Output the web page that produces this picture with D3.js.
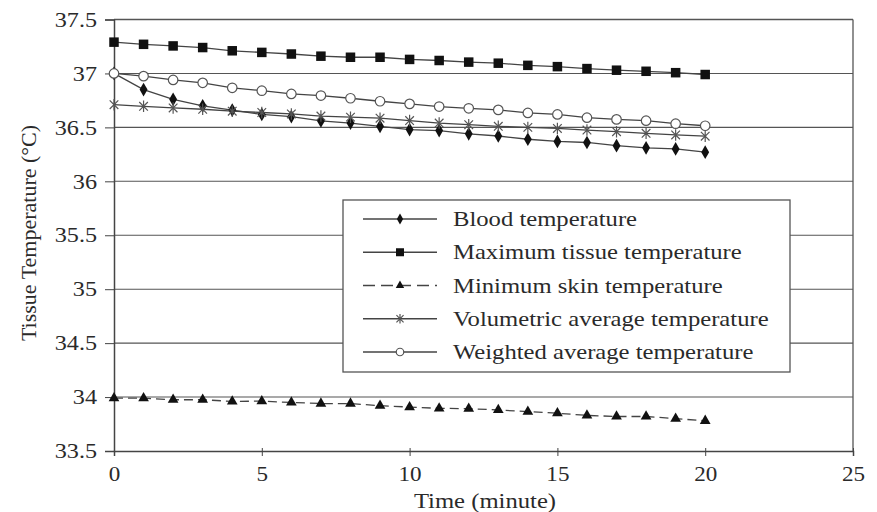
<!DOCTYPE html>
<html>
<head>
<meta charset="utf-8">
<script src="https://cdn.jsdelivr.net/npm/d3@7"></script>
<style>
    body { margin: 0; background: #fff; }
    svg text { font-family: "Liberation Serif", "Times New Roman", Times, serif !important; fill: #2a2a2a; }
</style>
</head>
<body>
<div id="chart"></div>
<script>
// time in minutes
const minutes = d3.range(0, 21);
const xTicks = [0, 5, 10, 15, 20, 25];
const yTicks = [33.5, 34, 34.5, 35, 35.5, 36, 36.5, 37, 37.5];

const seriesNames = [
    "Blood temperature",
    "Maximum tissue temperature",
    "Minimum skin temperature",
    "Volumetric average temperature",
    "Weighted average temperature"
];

const bloodTemp = [37.0, 36.85, 36.76, 36.70, 36.66, 36.62, 36.60, 36.56, 36.54, 36.51, 36.48,
    36.47, 36.44, 36.42, 36.39, 36.37, 36.36, 36.33, 36.31, 36.30, 36.27];
const maxTissueTemp = [37.29, 37.27, 37.255, 37.24, 37.21, 37.195, 37.18, 37.16, 37.15, 37.15, 37.13,
    37.12, 37.105, 37.095, 37.075, 37.063, 37.045, 37.03, 37.02, 37.007, 36.99];
const minSkinTemp = [33.99, 33.99, 33.975, 33.975, 33.96, 33.962, 33.95, 33.94, 33.94, 33.92, 33.907,
    33.895, 33.893, 33.88, 33.865, 33.85, 33.83, 33.82, 33.82, 33.80, 33.78];
const volAvgTemp = [36.71, 36.695, 36.68, 36.668, 36.65, 36.638, 36.625, 36.605, 36.595, 36.585, 36.563,
    36.54, 36.525, 36.51, 36.5, 36.49, 36.475, 36.46, 36.445, 36.43, 36.418];
const weightedAvgTemp = [37.0, 36.975, 36.94, 36.913, 36.867, 36.84, 36.81, 36.795, 36.77, 36.742, 36.718,
    36.693, 36.677, 36.662, 36.634, 36.62, 36.59, 36.574, 36.562, 36.534, 36.515];

const SERIF = "Liberation Serif";

// widen glyphs a little, the scanned figure is stretched horizontally
function stretch(sel, k) {
    k = k || 1.12;
    sel.each(function() {
        const w = this.getComputedTextLength();
        this.setAttribute("textLength", w * k);
        this.setAttribute("lengthAdjust", "spacingAndGlyphs");
    });
}

function asteriskPath(r) {
    const d = r * 0.75;
    return `M0,${-r}L0,${r}M${-d},${-d}L${d},${d}M${-d},${d}L${d},${-d}`;
}

class TempChart {
    constructor(width, height) {
        this.width = width;
        this.height = height;
        this.plot = { left: 114, right: 853, top: 19.5, bottom: 451 };

        this.xScale = d3.scaleLinear().domain([0, 25]).range([this.plot.left, this.plot.right]);
        this.yScale = d3.scaleLinear().domain([33.5, 37.5]).range([this.plot.bottom, this.plot.top]);

        this.series = [
            { name: seriesNames[0], values: bloodTemp, marker: "diamond", dash: null },
            { name: seriesNames[1], values: maxTissueTemp, marker: "square", dash: null },
            { name: seriesNames[2], values: minSkinTemp, marker: "triangle", dash: "9,5" },
            { name: seriesNames[3], values: volAvgTemp, marker: "asterisk", dash: null },
            { name: seriesNames[4], values: weightedAvgTemp, marker: "circle", dash: null }
        ];
    }

    renderSvg(id) {
        this.svg = d3.select(id).append("svg")
            .attr("width", this.width)
            .attr("height", this.height)
            .attr("font-family", SERIF);
    }

    renderGrid() {
        const self = this;
        this.svg.append("g")
            .selectAll("line")
            .data(yTicks.slice(1))
            .enter().append("line")
            .attr("x1", this.plot.left)
            .attr("x2", this.plot.right)
            .attr("y1", d => self.yScale(d))
            .attr("y2", d => self.yScale(d))
            .attr("stroke", "#555")
            .attr("stroke-width", d => d === 37.5 ? 1.6 : 1.1);

        // right border
        this.svg.append("line")
            .attr("x1", this.plot.right).attr("x2", this.plot.right)
            .attr("y1", this.plot.top).attr("y2", this.plot.bottom)
            .attr("stroke", "#555").attr("stroke-width", 1.3);
    }

    renderAxes() {
        const axisX = d3.axisBottom(this.xScale)
            .tickValues(xTicks)
            .tickSize(5)
            .tickPadding(10)
            .tickFormat(d3.format("d"));

        const axisY = d3.axisLeft(this.yScale)
            .tickValues(yTicks)
            .tickSize(9)
            .tickPadding(8)
            .tickFormat(d => d);

        const gx = this.svg.append("g")
            .attr("class", "x axis")
            .attr("transform", "translate(0," + this.plot.bottom + ")")
            .call(axisX)
            .attr("font-family", SERIF);
        gx.select(".domain").attr("stroke", "#444").attr("stroke-width", 1.5);
        gx.selectAll(".tick line").attr("stroke", "#444").attr("y1", -3);
        gx.selectAll(".tick text").attr("font-size", 21).attr("fill", "#2a2a2a").call(stretch, 1.1);

        const gy = this.svg.append("g")
            .attr("class", "y axis")
            .attr("transform", "translate(" + this.plot.left + ",0)")
            .call(axisY)
            .attr("font-family", SERIF);
        gy.select(".domain").attr("stroke", "#444").attr("stroke-width", 1.5);
        gy.selectAll(".tick line").attr("stroke", "#444");
        gy.selectAll(".tick text").attr("font-size", 21).attr("fill", "#2a2a2a").call(stretch, 1.15);
    }

    renderLabels() {
        this.svg.append("text")
            .attr("x", 485)
            .attr("y", 508)
            .attr("font-size", 22)
            .style("text-anchor", "middle")
            .text("Time (minute)")
            .call(stretch);

        this.svg.append("text")
            .attr("transform", "translate(36,233)rotate(-90)")
            .attr("font-size", 22)
            .style("text-anchor", "middle")
            .text("Tissue Temperature (°C)");
    }

    drawMarker(g, type, size) {
        if (type === "diamond") {
            g.append("path")
                .attr("d", d3.symbol().type(d3.symbolDiamond).size(size * size * 0.6)())
                .attr("fill", "#111");
        } else if (type === "square") {
            g.append("rect")
                .attr("x", -size / 2).attr("y", -size / 2)
                .attr("width", size).attr("height", size)
                .attr("fill", "#111");
        } else if (type === "triangle") {
            g.append("path")
                .attr("d", d3.symbol().type(d3.symbolTriangle).size(size * size * 0.55)())
                .attr("fill", "#111");
        } else if (type === "asterisk") {
            g.append("path")
                .attr("d", asteriskPath(size / 2 + 1))
                .attr("stroke", "#555").attr("stroke-width", 1.2).attr("fill", "none");
        } else if (type === "circle") {
            g.append("circle")
                .attr("r", size / 2)
                .attr("fill", "#fff")
                .attr("stroke", "#555").attr("stroke-width", 1.2);
        }
    }

    renderSeries() {
        const self = this;
        this.series.forEach(s => {
            const pts = s.values.map((v, i) => ({ t: minutes[i], v: v }));
            const line = d3.line()
                .x(d => self.xScale(d.t))
                .y(d => self.yScale(d.v));

            self.svg.append("path")
                .attr("d", line(pts))
                .attr("fill", "none")
                .attr("stroke", "#444")
                .attr("stroke-width", 1.3)
                .attr("stroke-dasharray", s.dash);

            self.svg.append("g")
                .selectAll("g")
                .data(pts)
                .enter().append("g")
                .attr("transform", d => "translate(" + self.xScale(d.t) + "," + self.yScale(d.v) + ")")
                .each(function() {
                    self.drawMarker(d3.select(this), s.marker, 9.5);
                });
        });
    }

    renderLegend() {
        const self = this;
        const box = { x: 343, y: 200, w: 447, h: 172 };
        this.svg.append("rect")
            .attr("x", box.x).attr("y", box.y)
            .attr("width", box.w).attr("height", box.h)
            .attr("fill", "#fff")
            .attr("stroke", "#555")
            .attr("stroke-width", 1.3);

        const rowY = d3.scalePoint().domain(seriesNames).range([219, 352]);

        this.series.forEach(s => {
            const y = rowY(s.name);
            const g = self.svg.append("g");
            g.append("line")
                .attr("x1", 363).attr("x2", 437)
                .attr("y1", y).attr("y2", y)
                .attr("stroke", "#444")
                .attr("stroke-width", 1.3)
                .attr("stroke-dasharray", s.dash ? "12,6" : null);
            const m = g.append("g").attr("transform", "translate(400," + y + ")");
            self.drawMarker(m, s.marker, s.marker === "square" ? 8 : 7.5);
            g.append("text")
                .attr("x", 453)
                .attr("y", y + 7)
                .attr("font-size", 22)
                .text(s.name)
                .call(stretch);
        });
    }

    render(id) {
        this.renderSvg(id);
        this.renderGrid();
        this.renderAxes();
        this.renderSeries();
        this.renderLegend();
        this.renderLabels();
    }
}

const chart = new TempChart(877, 512);
chart.render("#chart");
</script>
</body>
</html>
